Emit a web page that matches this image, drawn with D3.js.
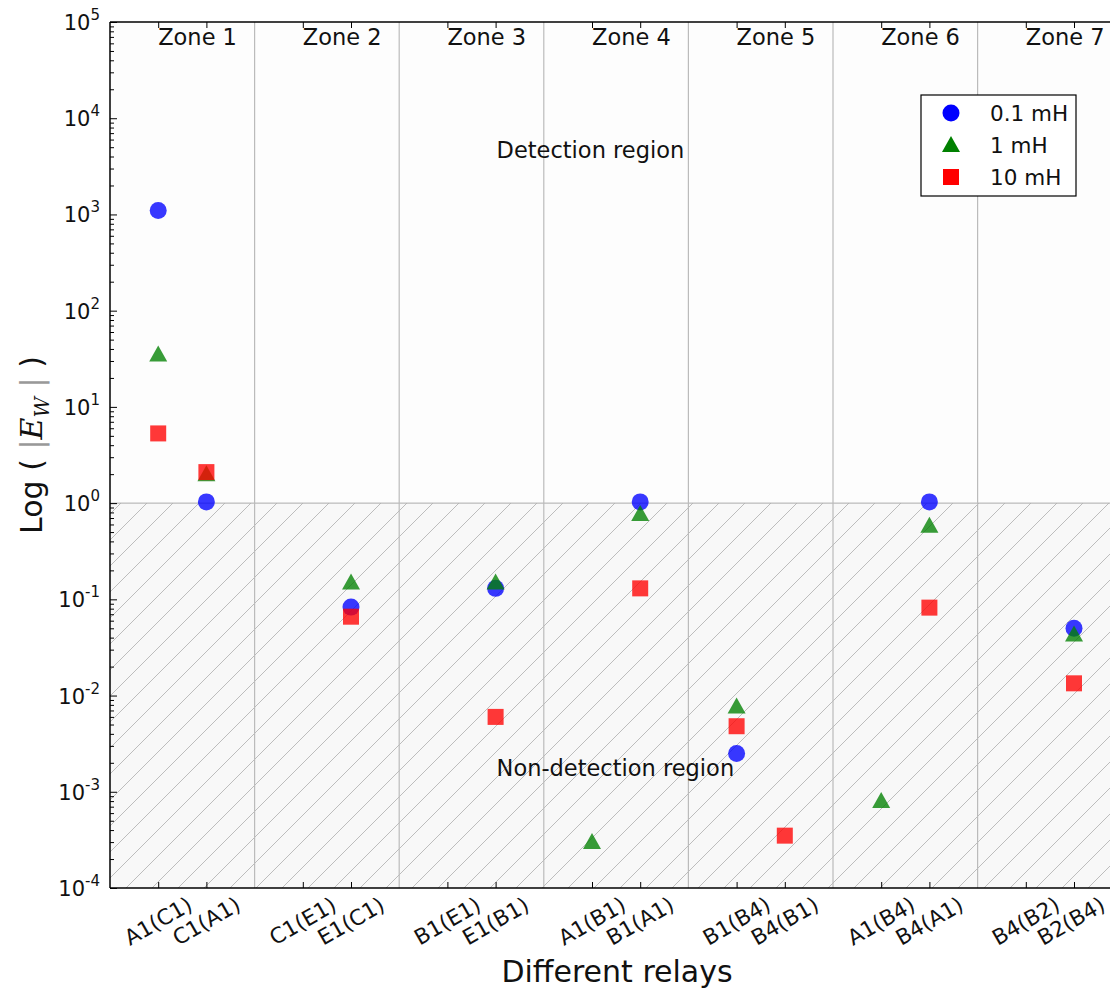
<!DOCTYPE html>
<html><head><meta charset="utf-8">
<script src="https://cdn.jsdelivr.net/npm/d3@7"></script>
<style>body{margin:0;background:#fff;} svg{display:block;font-family:"DejaVu Sans",sans-serif;}</style>
</head><body>
<svg id="c" width="1110" height="989"></svg>
<script>
const relays = ["A1(C1)","C1(A1)","C1(E1)","E1(C1)","B1(E1)","E1(B1)","A1(B1)","B1(A1)","B1(B4)","B4(B1)","A1(B4)","B4(A1)","B4(B2)","B2(B4)"];
const relayPos = [1,2,4,5,7,8,10,11,13,14,16,17,19,20];
const zones = ["Zone 1","Zone 2","Zone 3","Zone 4","Zone 5","Zone 6","Zone 7"];
const zoneStart = [1,4,7,10,13,16,19];
const zoneBounds = [3,6,9,12,15,18];
const s01 = [1100,1.03,null,0.083,null,0.13,null,1.03,0.0025,null,null,1.03,null,0.05];
const s1 = [35,2.0,null,0.15,null,0.15,0.0003,0.77,0.0077,null,0.0008,0.58,null,0.043];
const s10 = [5.3,2.1,null,0.066,null,0.006,null,0.13,0.0048,0.00035,null,0.082,null,0.0134];
const seriesNames = ["0.1 mH","1 mH","10 mH"];
const yTicks = [1e-4,1e-3,1e-2,1e-1,1,1e1,1e2,1e3,1e4,1e5];
const yExp = [-4,-3,-2,-1,0,1,2,3,4,5];

const series = [
  {name:seriesNames[0], color:"#0000ff", shape:"circle", vals:s01},
  {name:seriesNames[1], color:"#008000", shape:"triangle", vals:s1},
  {name:seriesNames[2], color:"#ff0000", shape:"square", vals:s10}
];

const svg = d3.select("#c");
const L=110, T=22, B=888;
const x = d3.scaleLinear().domain([0,21]).range([L, L+48.2*21]);
const y = d3.scaleLog().domain([1e-4,1e5]).range([B,T]);
const R = x(21);

const defs = svg.append("defs");
const H=26;
const pat = defs.append("pattern").attr("id","hatch").attr("patternUnits","userSpaceOnUse")
  .attr("width",H).attr("height",H);
pat.append("rect").attr("width",H).attr("height",H).attr("fill","#f8f8f8");
pat.append("path").attr("d",`M-2,2 L2,-2 M0,${H} L${H},0 M${H-2},${H+2} L${H+2},${H-2}`).attr("stroke","#bdbdbd").attr("stroke-width",1);
defs.append("clipPath").attr("id","clip").append("rect").attr("x",L).attr("y",T).attr("width",R-L).attr("height",B-T);

const g = svg.append("g");
g.append("rect").attr("x",L).attr("y",T).attr("width",R-L).attr("height",B-T).attr("fill","#fdfdfd");
g.append("rect").attr("x",L).attr("y",y(1)).attr("width",R-L).attr("height",B-y(1)).attr("fill","url(#hatch)");
g.append("line").attr("x1",L).attr("x2",R).attr("y1",y(1)).attr("y2",y(1)).attr("stroke","#aaa").attr("stroke-width",1);
g.selectAll(".zb").data(zoneBounds).enter().append("line")
  .attr("x1",d=>x(d)).attr("x2",d=>x(d)).attr("y1",T).attr("y2",B).attr("stroke","#bbb").attr("stroke-width",1.2);

g.selectAll(".zl").data(zones).enter().append("text")
  .attr("x",(d,i)=>x(zoneStart[i])).attr("y",T+23).attr("font-size",22.5).attr("fill","#111").text(d=>d);
g.append("text").attr("x",x(8)+1).attr("y",158).attr("font-size",22.5).attr("fill","#111").text("Detection region");
g.append("text").attr("x",x(8)+1).attr("y",776).attr("font-size",22.5).attr("fill","#111").text("Non-detection region");

const pts = svg.append("g").attr("clip-path","url(#clip)");
function drawShape(sel, shape, color){
  if(shape==="circle") sel.append("circle").attr("r",8.5).attr("fill",color);
  else if(shape==="triangle") sel.append("path").attr("d","M0,-9 L9,7 L-9,7 Z").attr("fill",color);
  else sel.append("rect").attr("x",-8).attr("y",-8).attr("width",16).attr("height",16).attr("fill",color);
}
series.forEach(s=>{
  s.vals.forEach((v,i)=>{
    if(v==null) return;
    const gg = pts.append("g").attr("transform",`translate(${x(relayPos[i])},${y(v)})`).attr("opacity",0.78);
    drawShape(gg, s.shape, s.color);
  });
});

const ax = svg.append("g").attr("stroke","#000").attr("fill","none");
ax.append("line").attr("x1",L).attr("x2",L).attr("y1",T).attr("y2",B).attr("stroke-width",1.5);
ax.append("line").attr("x1",L).attr("x2",R).attr("y1",B).attr("y2",B).attr("stroke-width",1.5);
ax.append("line").attr("x1",L).attr("x2",R).attr("y1",T).attr("y2",T).attr("stroke-width",1.5);

svg.append("g").attr("transform",`translate(${L},0)`).call(d3.axisLeft(y).tickValues(yTicks).tickSize(-7).tickFormat("")).call(s=>s.select(".domain").remove());
const minors=[];
for(let e=-4;e<5;e++) for(let m=2;m<10;m++) minors.push(m*Math.pow(10,e));
svg.append("g").attr("transform",`translate(${L},0)`).call(d3.axisLeft(y).tickValues(minors).tickSize(-4).tickFormat("")).call(s=>s.select(".domain").remove());
const yl = svg.append("g");
yTicks.forEach((v,i)=>{
  const t = yl.append("text").attr("x",L-10).attr("y",y(v)+8).attr("text-anchor","end").attr("font-size",21).attr("fill","#111");
  t.append("tspan").text("10");
  t.append("tspan").attr("dy",-10).attr("font-size",15).text(yExp[i]);
});

svg.append("g").attr("transform",`translate(0,${B})`).call(d3.axisBottom(x).tickValues(relayPos).tickSize(-6).tickFormat("")).call(s=>s.select(".domain").remove());
svg.append("g").attr("transform",`translate(0,${T})`).call(d3.axisTop(x).tickValues(relayPos).tickSize(-6).tickFormat("")).call(s=>s.select(".domain").remove());
svg.selectAll(".tick line").attr("stroke","#000");

svg.append("g").selectAll("text").data(relays).enter().append("text")
  .attr("transform",(d,i)=>`translate(${x(relayPos[i]) - (i===relays.length-1?3:0)},${B+33}) rotate(-30)`)
  .attr("text-anchor","middle").attr("dy","0.35em").attr("font-size",21.5).attr("fill","#111").text(d=>d);

svg.append("text").attr("x",617).attr("y",982).attr("text-anchor","middle").attr("font-size",30).attr("fill","#111").text("Different relays");
const yt = svg.append("text").attr("transform","translate(42,445) rotate(-90)").attr("text-anchor","middle").attr("font-size",30).attr("fill","#111");
yt.append("tspan").text("Log ( ");
yt.append("tspan").attr("fill","#999").text("|");
yt.append("tspan").attr("font-style","italic").attr("font-family","DejaVu Serif").text("E");
yt.append("tspan").attr("font-style","italic").attr("font-family","DejaVu Serif").attr("font-size",20).attr("dy",7).text("W");
yt.append("tspan").attr("dy",-7).attr("fill","#999").text(" |");
yt.append("tspan").text(" )");

const lg = svg.append("g").attr("transform","translate(921,95)");
lg.append("rect").attr("width",155).attr("height",101).attr("fill","#fff").attr("stroke","#000").attr("stroke-width",1.2);
series.forEach((s,i)=>{
  const row = lg.append("g").attr("transform",`translate(30,${18+i*32})`);
  drawShape(row.append("g"), s.shape, s.color);
  row.append("text").attr("x",39).attr("y",8).attr("font-size",21.5).attr("fill","#111").text(s.name);
});
</script>
</body></html>
